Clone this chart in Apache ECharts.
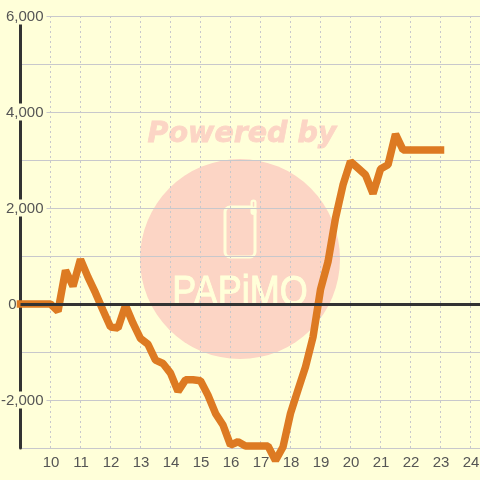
<!DOCTYPE html>
<html><head><meta charset="utf-8">
<style>html,body{margin:0;padding:0;background:#ffffd9}#c{width:480px;height:480px}</style>
<script src="https://cdn.jsdelivr.net/npm/echarts@6/dist/echarts.min.js"></script>
</head><body><div id="c"></div>
<script>
var hours=[9,9.25,9.5,9.75,10,10.25,10.5,10.75,11,11.25,11.5,11.75,12,12.25,12.5,12.75,13,13.25,13.5,13.75,14,14.25,14.5,14.75,15,15.25,15.5,15.75,16,16.25,16.5,16.75,17,17.25,17.5,17.75,18,18.25,18.5,18.75,19,19.25,19.5,19.75,20,20.25,20.5,20.75,21,21.25,21.5,21.75,22,22.25,22.5,22.75,23];
var profit=[0,0,0,0,0,-150,700,370,930,560,230,-130,-480,-500,-30,-400,-720,-840,-1170,-1240,-1440,-1820,-1580,-1580,-1600,-1900,-2280,-2520,-2940,-2870,-2960,-2960,-2960,-2960,-3260,-2980,-2280,-1790,-1310,-690,300,880,1790,2480,2970,2830,2690,2300,2810,2900,3540,3210,3210,3210,3210,3210,3210];
var labelledTicks=[-2000,0,2000,4000,6000];
var bg='#ffffd9',wm='#fcd5c5';
var chart=echarts.init(document.getElementById('c'),null,{renderer:'canvas'});
var pts=hours.map(function(h,i){return [h,profit[i]]});
function phone(){return [
 {type:'rect',z:-1,shape:{x:225,y:207,width:30,height:50,r:5},style:{fill:'none',stroke:bg,lineWidth:3}},
 {type:'line',z:-1,shape:{x1:253.5,y1:202.5,x2:253.5,y2:212},style:{stroke:bg,lineWidth:6,lineCap:'round'}},
 {type:'line',z:-1,shape:{x1:253.5,y1:202.5,x2:253.5,y2:206},style:{stroke:wm,lineWidth:1.5,lineCap:'round'}}
];}
chart.setOption({
 animation:false,
 backgroundColor:bg,
 grid:{left:20.5,top:16,width:480,height:432,outerBoundsMode:'none'},
 xAxis:{type:'value',min:9,max:25,interval:1,
  axisLine:{show:false},axisTick:{show:false},
  axisLabel:{color:'#555',fontFamily:'Liberation Sans',fontSize:15,margin:5,padding:[2,0,0,1],showMinLabel:false,showMaxLabel:false},
  splitLine:{show:true,lineStyle:{color:'#c8c8cc',type:[2,3],width:1}}},
 yAxis:{type:'value',min:-3000,max:6000,interval:1000,
  axisLine:{show:true,onZero:false,lineStyle:{color:'#333',width:3}},axisTick:{show:false},
  splitLine:{show:true,lineStyle:{color:'#c8c8cc',width:1}},
  axisLabel:{margin:-26,align:'right',
   formatter:function(v){
     if(labelledTicks.indexOf(v)<0)return '';
     if(v===0)return '{z|0}';
     return '{n|'+echarts.format.addCommas(v)+'}';
   },
   rich:{
    n:{color:'#555',fontFamily:'Liberation Sans',fontSize:15,backgroundColor:bg,padding:[2,3,0,2]},
    z:{color:'#555',fontFamily:'Liberation Sans',fontSize:15,padding:[2,30,0,0]}
   }}},
 graphic:{elements:[
  {type:'circle',z:-2,shape:{cx:240,cy:259,r:100},style:{fill:wm}},
  {type:'text',z:-1,x:242,y:135,style:{text:'Powered by',fill:wm,stroke:wm,lineWidth:0.8,font:'italic bold 28.5px "DejaVu Sans"',align:'center',verticalAlign:'middle'}},
  {type:'text',z:-1,x:240,y:293,scaleX:1.2,scaleY:1.4,style:{text:'PAPiMO',fill:bg,stroke:bg,lineWidth:0.7,font:'30px "Liberation Sans"',align:'center',verticalAlign:'middle'}}
 ].concat(phone())},
 series:[
  {type:'line',z:1,silent:true,data:[],symbol:'none',
   markLine:{silent:true,symbol:'none',label:{show:false},lineStyle:{color:'#333',width:3,type:'solid'},data:[{yAxis:0}]}},
  {type:'line',z:3,silent:true,data:pts,symbol:'none',clip:false,
   lineStyle:{color:'#dd7a22',width:7.5,cap:'square',join:'bevel'}}
 ]
});
</script></body></html>
